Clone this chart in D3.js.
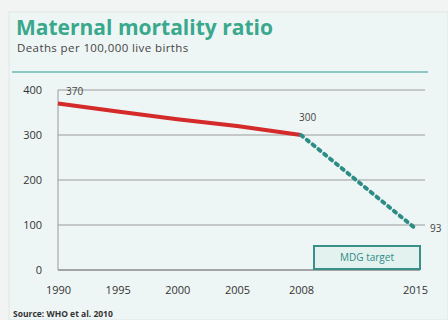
<!DOCTYPE html>
<html><head><meta charset="utf-8">
<script src="https://cdn.jsdelivr.net/npm/d3@7"></script>
<style>body{margin:0;background:#f3f6f4;}svg{display:block;}</style>
</head><body>
<svg id="c" width="448" height="320"></svg>
<script>
const years = [1990, 1995, 2000, 2005, 2008];
const actual = [370, 352, 335, 320, 300];
const targetYears = [2008, 2015];
const targetValues = [300, 93];
const xTicks = [1990, 1995, 2000, 2005, 2008, 2015];
const yTicks = [0, 100, 200, 300, 400];

const svg = d3.select("#c");
svg.append("rect").attr("x",0).attr("y",0).attr("width",448).attr("height",320).attr("fill","#f1f4f2");
svg.append("rect").attr("x",9).attr("y",12).attr("width",439).attr("height",308).attr("fill","#eef6f5")
  .attr("stroke","#dde8e4").attr("stroke-width",1);

svg.append("text").attr("x",16).attr("y",35).text("Maternal mortality ratio")
  .attr("font-family","Open Sans, sans-serif").attr("font-weight","bold").attr("font-size",21).attr("fill","#3aa88c");
svg.append("text").attr("x",17).attr("y",52).text("Deaths per 100,000 live births")
  .attr("font-family","Open Sans, sans-serif").attr("font-size",11.5).attr("letter-spacing",0.4).attr("fill","#444");
svg.append("line").attr("x1",12).attr("x2",428).attr("y1",72).attr("y2",72).attr("stroke","#8cc9c3").attr("stroke-width",2);

const x = d3.scaleLinear().domain([1990, 2005, 2008, 2015]).range([58, 237, 301, 415]);
const y = d3.scaleLinear().domain([0, 400]).range([270, 90]);

const grid = svg.append("g");
grid.selectAll("line").data(yTicks.filter(d=>d>0)).join("line")
  .attr("x1",58).attr("x2",425).attr("y1",d=>y(d)).attr("y2",d=>y(d))
  .attr("stroke","#9a9a9a").attr("stroke-width",1);
svg.append("line").attr("x1",58).attr("x2",420).attr("y1",y(0)).attr("y2",y(0)).attr("stroke","#888").attr("stroke-width",1.5);
svg.append("line").attr("x1",58).attr("x2",58).attr("y1",y(400)).attr("y2",y(0)).attr("stroke","#999").attr("stroke-width",1);

const yAxis = d3.axisLeft(y).tickValues(yTicks).tickSize(0).tickPadding(0);
const ya = svg.append("g").attr("transform","translate(42,0)").call(yAxis);
ya.select(".domain").remove();
ya.selectAll("text").attr("font-family","Open Sans, sans-serif").attr("font-size",11).attr("fill","#333");

const xAxis = d3.axisBottom(x).tickValues(xTicks).tickFormat(d3.format("d")).tickSize(0).tickPadding(0);
const xa = svg.append("g").attr("transform","translate(0,286)").call(xAxis);
xa.select(".domain").remove();
xa.selectAll("text").attr("font-family","Open Sans, sans-serif").attr("font-size",11).attr("fill","#333");

const line = d3.line().x(d=>x(d[0])).y(d=>y(d[1]));
svg.append("path").datum(years.map((yr,i)=>[yr, actual[i]]))
  .attr("d", line).attr("fill","none").attr("stroke","#d42a2a").attr("stroke-width",4);
svg.append("path").datum(targetYears.map((yr,i)=>[yr, targetValues[i]]))
  .attr("d", line).attr("fill","none").attr("stroke","#2e8c86").attr("stroke-width",4)
  .attr("stroke-dasharray","2.5,5").attr("stroke-linecap","round");

const lab = (t, xx, yy) => svg.append("text").attr("x",xx).attr("y",yy).text(t)
  .attr("font-family","Open Sans, sans-serif").attr("font-size",10).attr("fill","#444");
lab(actual[0], x(1990)+8, y(actual[0])-9);
lab(actual[4], x(2008)-2, y(actual[4])-14);
lab(targetValues[1], x(2015)+15, y(targetValues[1])+4);

svg.append("rect").attr("x",314).attr("y",246).attr("width",106).attr("height",23)
  .attr("fill","#e3f2ef").attr("stroke","#3a8f88").attr("stroke-width",2);
svg.append("text").attr("x",367).attr("y",261).attr("text-anchor","middle").text("MDG target")
  .attr("font-family","Open Sans, sans-serif").attr("font-size",10).attr("fill","#2e8c86");

svg.append("text").attr("x",13).attr("y",317).text("Source: WHO et al. 2010")
  .attr("font-family","Open Sans, sans-serif").attr("font-weight","bold").attr("font-size",8.5).attr("fill","#333");
</script>
</body></html>
